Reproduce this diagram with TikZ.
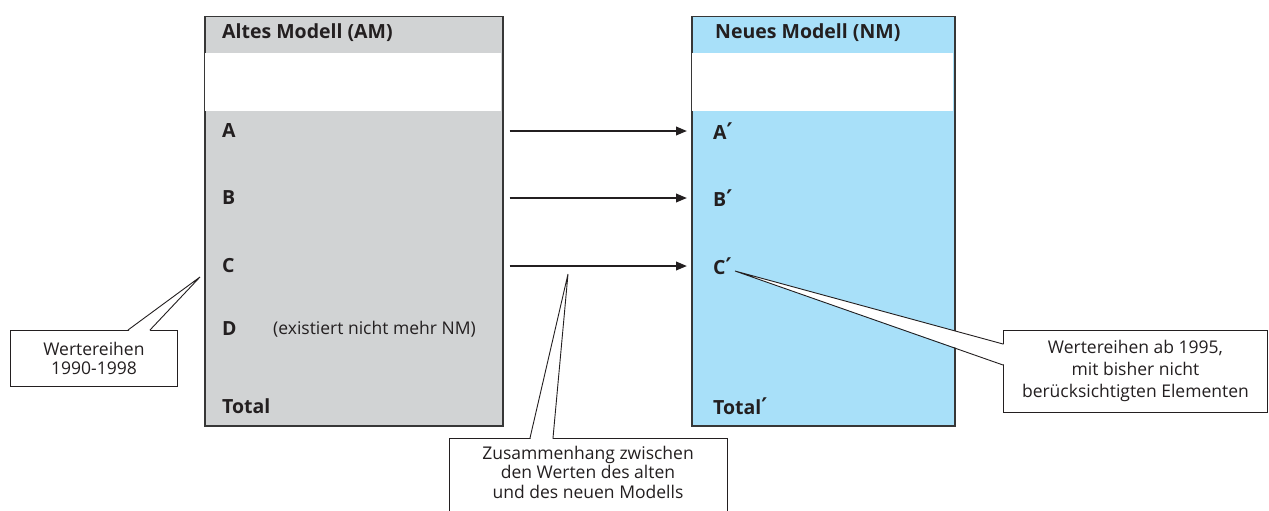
\documentclass[tikz,border=0pt]{standalone}
\usepackage{fontspec}
\setmainfont{Open Sans}
\newfontfamily\primefont{DejaVu Sans}
\usetikzlibrary{arrows.meta}
\definecolor{oldgrey}{RGB}{209,211,212}
\definecolor{newblue}{RGB}{168,224,249}
\definecolor{framegrey}{RGB}{55,55,55}
\definecolor{ink}{RGB}{35,31,32}
\newcommand{\pr}{{\primefont\bfseries\fontsize{23}{22}\selectfont ′}}

\begin{document}
\begin{tikzpicture}[x=1pt,y=-1pt,
  model/.style={draw=framegrey,line width=1.5pt,anchor=north west,inner sep=0pt,
    minimum width=298pt,minimum height=409pt},
  lab/.style={anchor=west,inner sep=0pt,font=\fontsize{19.5}{22}\selectfont\bfseries,text=ink},
  note/.style={draw=ink,line width=0.9pt,fill=white,anchor=north west,inner sep=0pt},
  notetext/.style={align=center,inner sep=0pt,font=\fontsize{17.5}{19.5}\selectfont,text=ink},
  arr/.style={draw=ink,line width=2.2pt,-{Triangle[length=11pt,width=8.5pt]}},
  tail/.style={draw=ink,line width=0.9pt,line join=miter}]
\useasboundingbox (0,0) rectangle (1269,511);

% the two model boxes
\node[model,fill=oldgrey] (old) at (204,16) {};
\node[model,fill=newblue,minimum width=263pt] (new) at (691,16) {};
% blank band under each heading
\fill[white] (204.75,53) rectangle (501.25,111);
\fill[white] (691.75,53) rectangle (953.25,111);

% headings
\node[lab] (oldhead) at (222,33) {Altes Modell (AM)};
\node[lab] (newhead) at (715,33) {Neues Modell (NM)};

% rows of the old model
\node[lab] (a) at (222,131) {A};
\node[lab] (b) at (222,198) {B};
\node[lab] (c) at (222,266) {C};
\node[lab] (d) at (222,329) {D};
\node[anchor=west,inner sep=0pt,font=\fontsize{17.5}{20}\selectfont,text=ink] (dnote) at (273,329) {(existiert nicht mehr NM)};
\node[lab] (tot) at (222,406) {Total};

% rows of the new model
\node[lab] (ap) at (713,131) {A\pr};
\node[lab] (bp) at (713,198) {B\pr};
\node[lab] (cp) at (713,266) {C\pr};
\node[lab] (totp) at (713,406) {Total\pr};

% mapping arrows
\foreach \l/\r in {a/ap,b/bp,c/cp}{
  \coordinate (\l L) at (old.east |- \l.west);
  \coordinate (\l R) at (new.west |- \r.west);
  \draw[arr] ([xshift=6pt]\l L) -- ([xshift=-4pt]\l R);
}

% callout: series of the old model
\node[note,minimum width=167pt,minimum height=56pt] (n1) at (10,330) {};
\node[notetext] (t1) at (n1.center) {Wertereihen\\1990-1998};
\coordinate (p1) at (200,277);
\fill[white] (128.5,331) -- (p1) -- (149.5,331) -- cycle;
\draw[tail] (128,330) -- (p1) -- (150,330);

% callout: link between old and new values
\node[note,minimum width=278pt,minimum height=90pt] (n2) at (449,438) {};
\node[notetext] (t2) at (588,472) {Zusammenhang zwischen\\den Werten des alten\\und des neuen Modells};
\coordinate (p2) at (568,274);
\fill[white] (530.5,439) -- (p2) -- (552.5,439) -- cycle;
\draw[tail] (530,438) -- (p2) -- (553,438);

% callout: series of the new model
\node[note,minimum width=264pt,minimum height=82pt] (n3) at (1003,330) {};
\node[notetext,font=\fontsize{17.5}{22}\selectfont] (t3) at (n3.center) {Wertereihen ab 1995,\\mit bisher nicht\\berücksichtigten Elementen};
\coordinate (p3) at (735,271);
\fill[white] (1004,344.5) -- (p3) -- (1004,364.5) -- cycle;
\draw[tail] (1003,344) -- (p3) -- (1003,365);
\end{tikzpicture}
\end{document}
